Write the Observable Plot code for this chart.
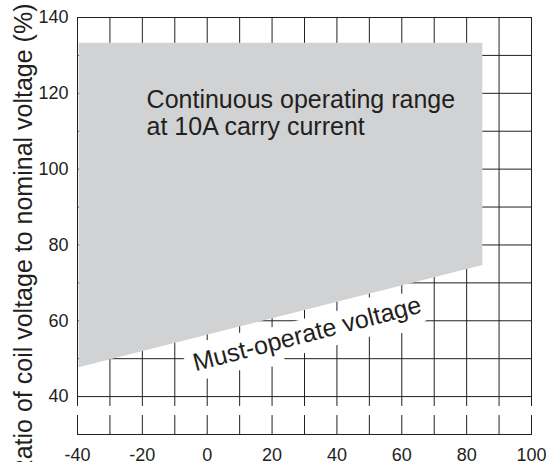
<!DOCTYPE html>
<html>
<head>
<meta charset="utf-8">
<script src="https://cdn.jsdelivr.net/npm/d3@7"></script>
<script src="https://cdn.jsdelivr.net/npm/@observablehq/plot@0.6"></script>
<style>
  html, body { margin: 0; padding: 0; background: #fff; }
  #chart svg { display: block; font-family: "Liberation Sans", Arial, sans-serif; }
</style>
</head>
<body>
<div id="chart"></div>
<script>
// Axis ticks and grid
const xTicks = [-40, -20, 0, 20, 40, 60, 80, 100];
const yTicks = [40, 60, 80, 100, 120, 140];
const xGrid = [-30, -20, -10, 0, 10, 20, 30, 40, 50, 60, 70, 80, 90];
const yGrid = [40, 50, 60, 70, 80, 90, 100, 110, 120, 130];

// Continuous operating range (gray region)
const rangeX = [-39.5, 85];
const rangeLower = [47.6, 74.6];   // must-operate voltage (%)
const rangeUpper = [133.2, 133.2]; // upper limit (%)

// Axis break band
const breakBand = [{x1: -40, x2: 100, y1: 35, y2: 37.4}];

// Annotations
const regionLabel = [{x: -18.7, y: 121.1, text: "Continuous operating range\nat 10A carry current"}];
const lineLabel = [{x: 30.8, y: 56.5, text: "Must-operate voltage"}];
const yTitle = "Ratio of coil voltage to nominal voltage (%)";

const region = rangeX.map((x, i) => ({x, lo: rangeLower[i], hi: rangeUpper[i]}));
const ink = "#231f20";

const chart = Plot.plot({
  width: 546,
  height: 462,
  marginLeft: 77,
  marginTop: 17,
  marginRight: 15,
  marginBottom: 28,
  style: {fontFamily: "'Liberation Sans', Arial, sans-serif", color: ink, background: "white"},
  x: {domain: [-40, 100]},
  y: {domain: [30, 140]},
  marks: [
    Plot.ruleX(xGrid, {stroke: ink, strokeWidth: 1}),
    Plot.ruleY(yGrid, {stroke: ink, strokeWidth: 1}),
    Plot.frame({stroke: ink, strokeWidth: 1}),
    // halo behind the must-operate label
    Plot.text(lineLabel, {x: "x", y: "y", text: "text", rotate: -14.5, fontSize: 25,
      lineAnchor: "middle", fill: "white", stroke: "white", strokeWidth: 20}),
    Plot.areaY(region, {x: "x", y1: "lo", y2: "hi", fill: "#d1d2d4"}),
    Plot.rect(breakBand, {x1: "x1", x2: "x2", y1: "y1", y2: "y2", fill: "white", insetLeft: -3, insetRight: -3}),
    Plot.axisY({ticks: yTicks, tickSize: 0, tickPadding: 9, fontSize: 18, label: null, tickFormat: d => String(d)}),
    Plot.axisX({ticks: xTicks, tickSize: 0, tickPadding: 14, fontSize: 18, label: null, tickFormat: d => String(d)}),
    Plot.text(regionLabel, {x: "x", y: "y", text: "text", fontSize: 25, textAnchor: "start",
      lineAnchor: "top", lineHeight: 1.08, fill: ink}),
    Plot.text(lineLabel, {x: "x", y: "y", text: "text", rotate: -14.5, fontSize: 25,
      lineAnchor: "middle", fill: ink}),
    Plot.text([yTitle], {text: d => d, frameAnchor: "top-left", rotate: -90, textAnchor: "end",
      lineAnchor: "bottom", dx: -46, dy: -14, fontSize: 25, fill: ink})
  ]
});
document.getElementById("chart").appendChild(chart);
</script>
</body>
</html>
